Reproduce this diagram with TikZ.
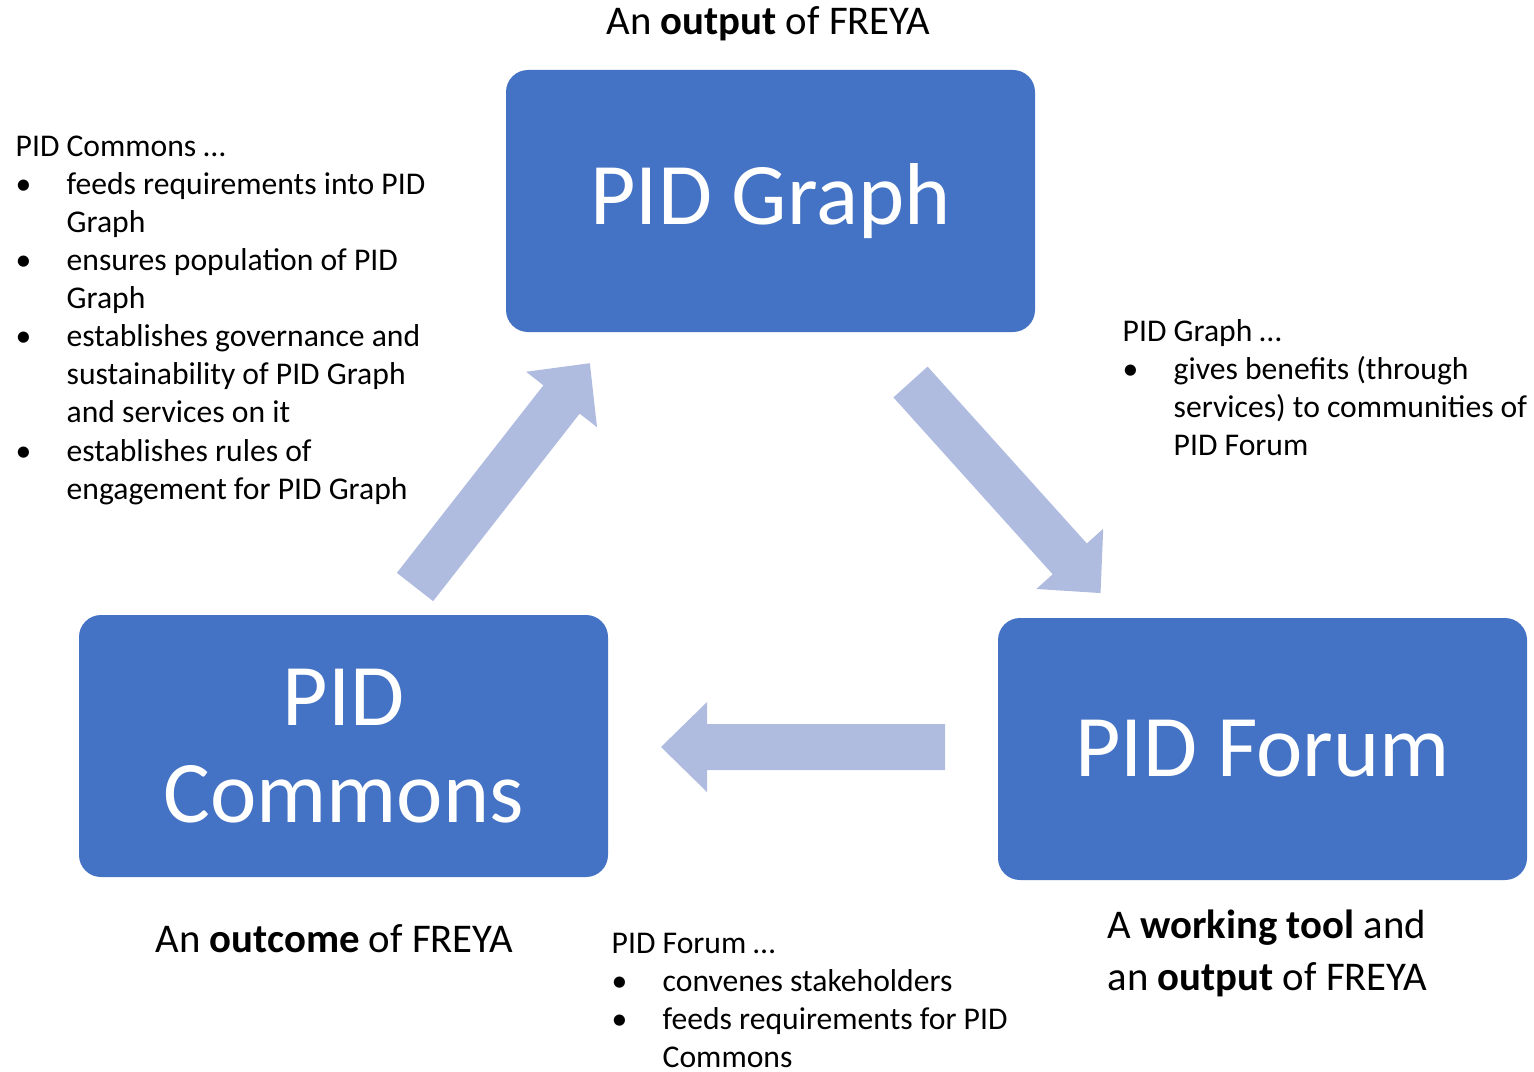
\documentclass[tikz,border=0pt]{standalone}
\usepackage{fontspec}
\setmainfont{Carlito}
\definecolor{boxblue}{HTML}{4472C4}
\definecolor{arrowblue}{RGB}{175,188,224}
\tikzset{
  pidbox/.style={fill=boxblue,rounded corners=0.22cm,minimum width=5.29cm,minimum height=2.62cm,
    text=white,align=center,inner sep=0pt,font=\fontsize{25}{27.6}\selectfont},
  caption/.style={inner sep=0pt,font=\fontsize{11.6}{14.8}\selectfont},
  notes/.style={inner sep=0pt,anchor=base west,font=\fontsize{9}{10.85}\selectfont},
}
% fat arrow: tail centre, angle
\newcommand\fatarrow[2]{\fill[arrowblue,shift={#1},rotate=#2]
  (0,-0.23) -- (2.38,-0.23) -- (2.38,-0.45) -- (2.84,0) -- (2.38,0.45) -- (2.38,0.23) -- (0,0.23) -- cycle;}
\begin{document}
\begin{tikzpicture}
\useasboundingbox (0,0) rectangle (15.34,-10.71);
\node[pidbox] (graph) at (7.705,-2.01) {PID Graph};
\node[pidbox] (commons) at (3.435,-7.46) {PID\\Commons};
\node[pidbox] (forum) at (12.625,-7.49) {PID Forum};
\coordinate (commonstail) at (4.15,-5.87);
\coordinate (graphtail) at (9.105,-3.82);
\coordinate (forumtail) at (9.45,-7.47);
\fatarrow{(commonstail)}{52}
\fatarrow{(graphtail)}{-48}
\fatarrow{(forumtail)}{180}
\node[caption,anchor=base] (graphcap) at (7.685,-0.35) {An \textbf{output} of FREYA};
\node[caption,anchor=base] (commonscap) at (3.345,-9.52) {An \textbf{outcome} of FREYA};
\node[caption,anchor=base west] (forumcap) at (11.07,-9.38) {\begin{tabular}[t]{@{}l@{}}A \textbf{working tool} and\\an \textbf{output} of FREYA\end{tabular}};
\node[notes] (commonsnote) at (0.15,-1.56) {\begin{tabular}[t]{@{}p{0.51cm}@{}l@{}}
\multicolumn{2}{@{}l@{}}{PID Commons …}\\
•&feeds requirements into PID\\
&Graph\\
•&ensures population of PID\\
&Graph\\
•&establishes governance and\\
&sustainability of PID Graph\\
&and services on it\\
•&establishes rules of\\
&engagement for PID Graph
\end{tabular}};
\node[notes] (graphnote) at (11.22,-3.41) {\begin{tabular}[t]{@{}p{0.51cm}@{}l@{}}
\multicolumn{2}{@{}l@{}}{PID Graph …}\\
•&gives benefits (through\\
&services) to communities of\\
&PID Forum
\end{tabular}};
\node[notes] (forumnote) at (6.11,-9.53) {\begin{tabular}[t]{@{}p{0.51cm}@{}l@{}}
\multicolumn{2}{@{}l@{}}{PID Forum …}\\
•&convenes stakeholders\\
•&feeds requirements for PID\\
&Commons
\end{tabular}};
\end{tikzpicture}
\end{document}
